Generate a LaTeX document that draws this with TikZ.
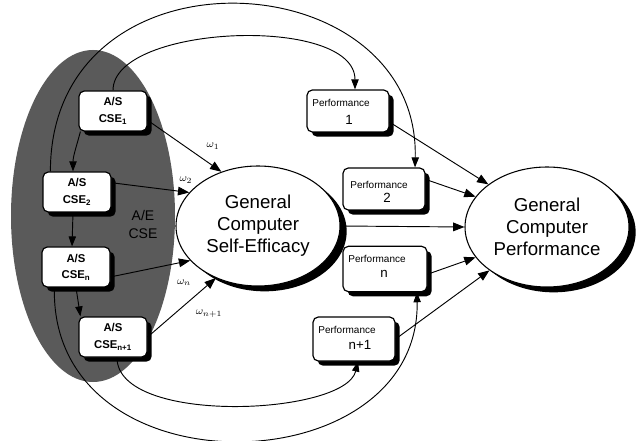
\documentclass[tikz,border=0pt]{standalone}
\usepackage{fontspec}
\setmainfont{Liberation Sans}
\usetikzlibrary{arrows.meta,shapes.geometric,shadows}
\definecolor{aegray}{RGB}{90,90,90}
\begin{document}
\begin{tikzpicture}[x=0.75pt,y=-0.75pt,
  arr/.style={-{Triangle[length=7.5pt,width=5.5pt]}, line width=0.7pt},
  bigarr/.style={-{Triangle[length=8.5pt,width=6.5pt]}, line width=0.7pt},
  boxshadow/.style={drop shadow={shadow xshift=3.5pt, shadow yshift=-3.5pt, fill=black, opacity=1}},
  csebox/.style={draw, fill=white, rounded corners=4pt, line width=0.9pt, minimum width=51pt, minimum height=30pt, inner sep=0pt, align=center, font=\fontsize{8.5}{12.5}\selectfont\bfseries, boxshadow},
  pbox/.style={draw, fill=white, rounded corners=4pt, line width=0.9pt, minimum width=61.5pt, minimum height=31.5pt, inner sep=0pt, boxshadow},
  ptitle/.style={font=\fontsize{7.5}{8}\selectfont, inner sep=0pt},
  pnum/.style={font=\fontsize{10}{12}\selectfont, inner sep=0pt},
  bigell/.style={ellipse, draw, fill=white, line width=0.8pt, minimum width=123pt, minimum height=90pt, inner sep=0pt, align=center, font=\fontsize{14}{16.5}\selectfont, drop shadow={shadow xshift=5pt, shadow yshift=-4pt, fill=black, opacity=1}},
  wlab/.style={font=\footnotesize, inner sep=0pt}
]
\useasboundingbox[fill=white] (0,0) rectangle (638,441);
% A/E CSE background ellipse
\fill[aegray] (93,216) ellipse [x radius=61.5pt, y radius=124.5pt];
\node[font=\fontsize{10.5}{13.5}\selectfont, align=center, inner sep=0pt, text=black] (ae) at (143,224) {A/E\\CSE};

% CSE boxes
\node[csebox] (cse1) at (113,111) {A/S\\CSE\textsubscript{1}};
\node[csebox] (cse2) at (77,192) {A/S\\CSE\textsubscript{2}};
\node[csebox] (csen) at (76,267) {A/S\\CSE\textsubscript{n}};
\node[csebox] (csen1) at (113,337) {A/S\\CSE\textsubscript{n+1}};

% big ellipses
\node[bigell] (gcse) at (258,226) {General\\Computer\\Self-Efficacy};
\node[bigell] (gcp) at (547,227) {General\\Computer\\Performance};

% performance boxes
\node[pbox] (p1) at (348,111) {};
\node[pbox] (p2) at (384,189) {};
\node[pbox, minimum width=63pt, minimum height=34pt] (pn) at (385,269) {};
\node[pbox, minimum height=33pt] (pn1) at (354,339) {};
\node[ptitle] (p1t) at ([shift={(-7,-8)}]p1.center) {Performance};
\node[pnum] (p1n) at ([shift={(1,9)}]p1.center) {1};
\node[ptitle] (p2t) at ([shift={(-5,-4)}]p2.center) {Performance};
\node[pnum] (p2n) at ([shift={(3,9)}]p2.center) {2};
\node[ptitle] (pnt) at ([shift={(-8,-10)}]pn.center) {Performance};
\node[pnum] (pnn) at ([shift={(-1,5)}]pn.center) {n};
\node[ptitle] (pn1t) at ([shift={(-7,-9)}]pn1.center) {Performance};
\node[pnum] (pn1n) at ([shift={(6,6)}]pn1.center) {n+1};

% omega labels
\node[wlab] (w1) at (213,146) {$\omega_1$};
\node[wlab] (w2) at (186,180) {$\omega_2$};
\node[wlab] (wn) at (184,283) {$\omega_n$};
\node[wlab] (wn1) at (209,314) {$\omega_{n+1}$};

% CSE -> GCSE
\draw[bigarr] (cse1.-15) -- (gcse.124);
\draw[bigarr] (cse2.15) -- (gcse.154);
\draw[bigarr] (csen.-16) -- (gcse.207);
\draw[bigarr] (csen1.east) -- (gcse.231);

% chain of CSE boxes
\draw[arr] ([xshift=1.5pt]cse1.south west) .. controls +(-4,15) and +(0,-15) .. ([xshift=-3pt]cse2.north);
\draw[arr] ([xshift=-3pt]cse2.south) -- ([xshift=-3pt]csen.north);
\draw[arr] (csen.south) -- ([xshift=1.5pt]csen1.north west);

% long curves
\draw[arr] (cse1.north) .. controls +(0,-66) and +(0,-75) .. ([shift={(7,0)}]p1.north);
\draw[arr] ([shift={(8,0)}]cse2.north west) .. controls +(0,-232) and +(5,-208) .. ([shift={(31,0)}]p2.north);
\draw[arr] ([shift={(4,0)}]csen1.south) .. controls +(0,68) and +(-13,54) .. ([shift={(4,0)}]pn1.south);
\draw[arr] ([shift={(13,0)}]csen.south west) .. controls +(-5,208) and +(3,194) .. ([shift={(32,0)}]pn.south);

% to GCP
\draw[bigarr] (p1.-15) -- (gcp.144);
\draw[bigarr] (p2.13) -- (gcp.157);
\draw[bigarr] (gcse.east) -- (gcp.west);
\draw[bigarr] (pn.-7) -- (gcp.203);
\draw[bigarr] (pn1.east) -- (gcp.217);
\end{tikzpicture}
\end{document}
